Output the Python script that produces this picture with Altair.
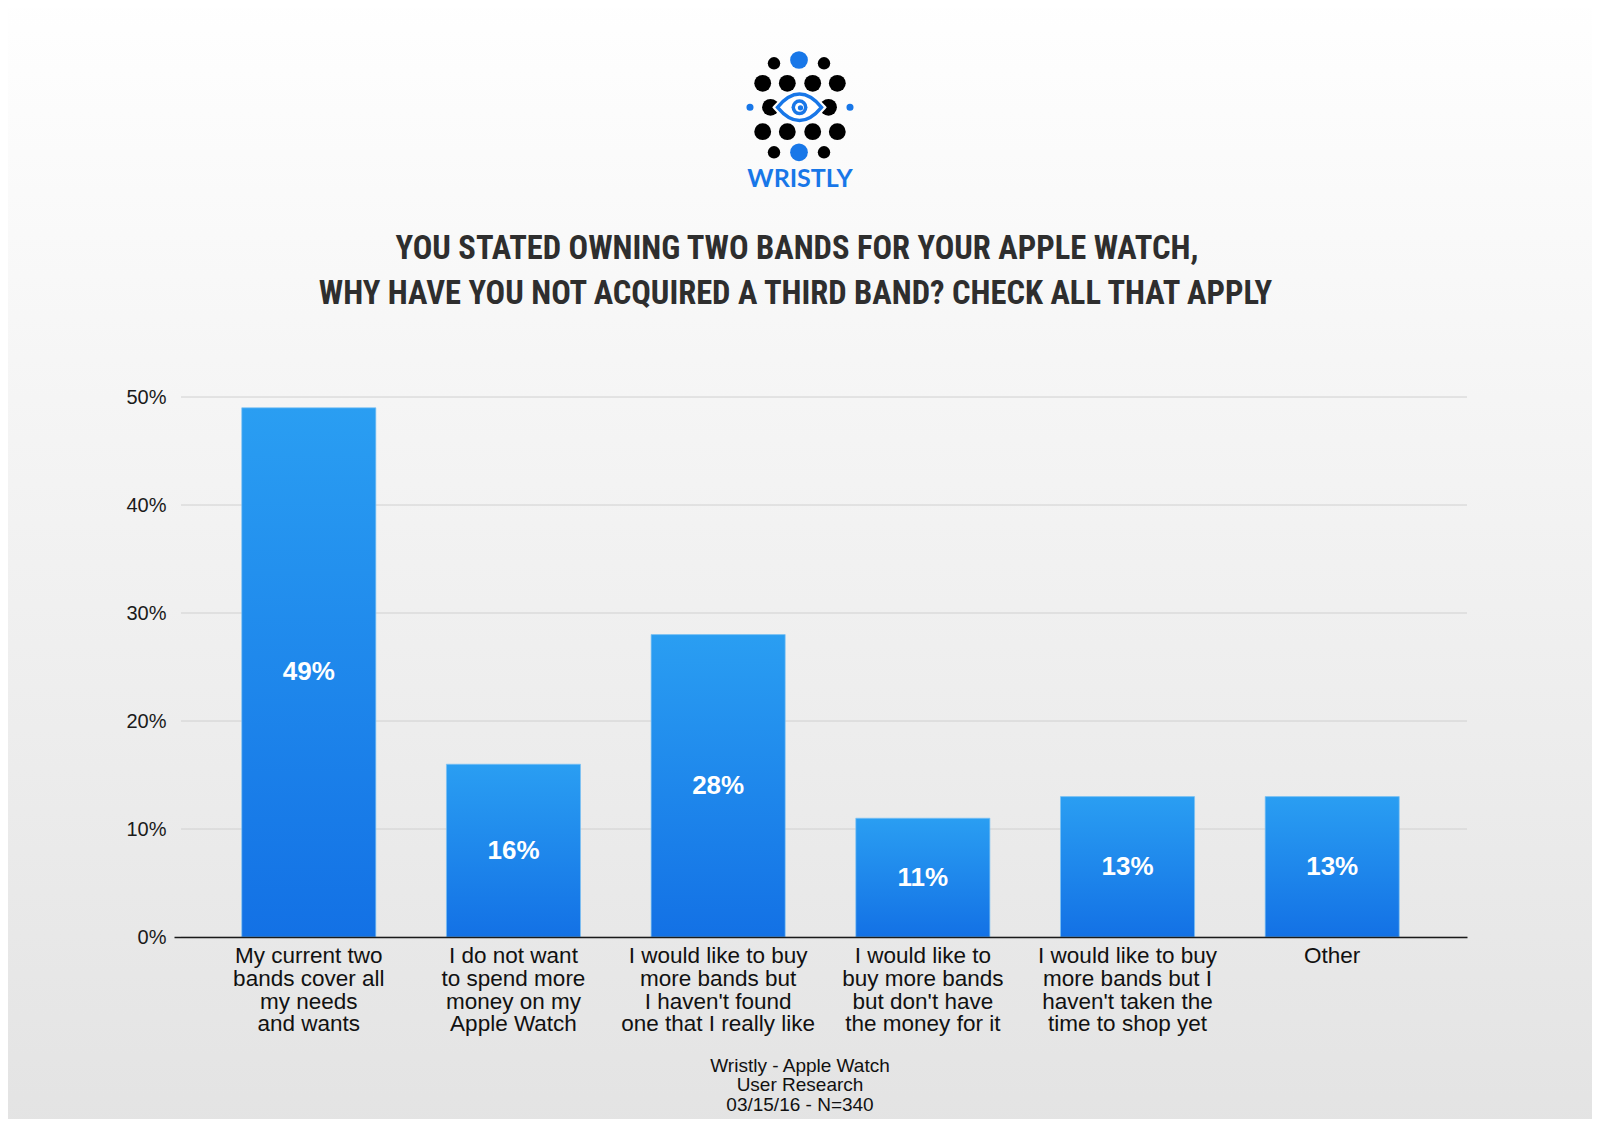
import altair as alt
import pandas as pd

# ---- chart data ----
categories = [
    "My current two bands cover all my needs and wants",
    "I do not want to spend more money on my Apple Watch",
    "I would like to buy more bands but I haven't found one that I really like",
    "I would like to buy more bands but don't have the money for it",
    "I would like to buy more bands but I haven't taken the time to shop yet",
    "Other",
]
tick_labels = [
    "My current two\nbands cover all\nmy needs\nand wants",
    "I do not want\nto spend more\nmoney on my\nApple Watch",
    "I would like to buy\nmore bands but\nI haven't found\none that I really like",
    "I would like to\nbuy more bands\nbut don't have\nthe money for it",
    "I would like to buy\nmore bands but I\nhaven't taken the\ntime to shop yet",
    "Other",
]
values = [0.49, 0.16, 0.28, 0.11, 0.13, 0.13]
y_ticks = [0, 0.1, 0.2, 0.3, 0.4, 0.5]

title_lines = [
    "YOU STATED OWNING TWO BANDS FOR YOUR APPLE WATCH,",
    "WHY HAVE YOU NOT ACQUIRED A THIRD BAND? CHECK ALL THAT APPLY",
]
source_lines = ["Wristly - Apple Watch", "User Research", "03/15/16 - N=340"]
brand = "WRISTLY"

df = pd.DataFrame({"cat": categories, "label": tick_labels, "value": values})
grid_df = pd.DataFrame({"t": y_ticks})

W, H = 1293, 540
PAD_L, PAD_T, PAD_R, PAD_B = 166, 389, 125, 182
BLUE = "#1877e8"
SANS = "Liberation Sans, Arial, Helvetica, sans-serif"

x_scale = alt.Scale(domain=categories, paddingInner=0.345, paddingOuter=0.331)
y_scale = alt.Scale(domain=[0, 0.5], nice=False)

y_axis = alt.Axis(title=None, values=y_ticks, format=".0%",
                  domain=False, ticks=False, labelPadding=8, zindex=2,
                  labelFont=SANS, labelFontSize=20, labelColor="#1a1a1a",
                  grid=False)

base = alt.Chart(df)

# background gradient covering the whole canvas
bg = alt.Chart(pd.DataFrame({"k": [0]})).mark_rect(
    color=alt.Gradient(
        gradient="linear", x1=0, y1=0, x2=0, y2=1,
        stops=[alt.GradientStop(offset=0, color="#ffffff"),
               alt.GradientStop(offset=1, color="#e3e3e3")],
    )
).encode(
    x=alt.value(-PAD_L - 20), x2=alt.value(W + PAD_R + 20),
    y=alt.value(-PAD_T - 20), y2=alt.value(H + PAD_B + 20),
)

grid = alt.Chart(grid_df).mark_rule(color="#d0d0d0", strokeWidth=1).encode(
    y=alt.Y("t:Q", scale=y_scale, axis=y_axis),
    x=alt.value(7), x2=alt.value(W),
)

bars = base.mark_bar(
    color=alt.Gradient(
        gradient="linear", x1=0, y1=0, x2=0, y2=1,
        stops=[alt.GradientStop(offset=0, color="#2a9ef2"),
               alt.GradientStop(offset=1, color="#1371e5")],
    ),
    stroke="#7cc2f4", strokeWidth=1, strokeOpacity=0.7,
).encode(
    x=alt.X("cat:N", scale=x_scale, sort=categories,
            axis=alt.Axis(title=None, labels=False, ticks=False, zindex=2,
                          domain=True, domainColor="#1a1a1a", domainWidth=1.5,
                          grid=False)),
    y=alt.Y("value:Q", scale=y_scale, axis=y_axis),
)

value_labels = base.transform_calculate(half="datum.value / 2").mark_text(
    font=SANS, fontSize=26, fontWeight="bold", color="white", baseline="middle",
).encode(
    x=alt.X("cat:N", scale=x_scale, sort=categories),
    y=alt.Y("half:Q", scale=y_scale, axis=y_axis),
    text=alt.Text("value:Q", format=".0%"),
)

cat_labels = base.mark_text(
    font=SANS, fontSize=22.5, color="#111111", baseline="top", align="center",
    lineBreak="\n", lineHeight=22.8,
).encode(
    x=alt.X("cat:N", scale=x_scale, sort=categories),
    y=alt.value(548),
    text="label:N",
)

# title
one = pd.DataFrame({"k": [0]})
TITLE_FONT = "Roboto Condensed, Liberation Sans Narrow, DejaVu Sans Condensed, sans-serif"
title1 = alt.Chart(one).mark_text(
    text=title_lines[0], font=TITLE_FONT, fontSize=32.5, fontWeight="bold",
    color="#2e2e2e", align="center", baseline="alphabetic",
).encode(x=alt.value(623), y=alt.value(-138))
title2 = alt.Chart(one).mark_text(
    text=title_lines[1], font=TITLE_FONT, fontSize=32.5, fontWeight="bold",
    color="#2e2e2e", align="center", baseline="alphabetic",
).encode(x=alt.value(621.5), y=alt.value(-93))

# source note
src_layers = []
for i, line in enumerate(source_lines):
    src_layers.append(
        alt.Chart(one).mark_text(
            text=line, font=SANS, fontSize=19, color="#111111",
            align="center", baseline="alphabetic",
        ).encode(x=alt.value(626), y=alt.value(674.7 + i * 19.7))
    )

# logo (decoration)
CX = 625
def dot(dx, dy, d, color):
    return alt.Chart(one).mark_circle(
        size=d * d * 0.785, color=color, opacity=1
    ).encode(x=alt.value(CX + dx), y=alt.value(dy))

logo = []
logo.append(dot(0, -337, 20, BLUE))
logo.append(dot(-25, -333.7, 14, "black"))
logo.append(dot(25, -333.7, 14, "black"))
for dx in (-36.3, -11.7, 13.7, 38.3):
    logo.append(dot(dx, -313.7, 19, "black"))
    logo.append(dot(dx, -265.3, 19, "black"))
logo.append(dot(-28.5, -289.7, 19, "black"))
logo.append(dot(29.5, -289.7, 19, "black"))
logo.append(dot(-49, -289.7, 8, BLUE))
logo.append(dot(51, -289.7, 8, BLUE))
logo.append(dot(-25, -244.7, 14, "black"))
logo.append(dot(25, -244.7, 14, "black"))
logo.append(dot(0, -244.7, 20, BLUE))

EYE = "M -1 0 Q 0 -1.2 1 0 Q 0 1.2 -1 0 Z"
eye_halo = alt.Chart(one).mark_point(
    shape=EYE, size=48 * 48, filled=True, fill="white", stroke="white",
    strokeWidth=5, opacity=1,
).encode(x=alt.value(CX + 0.5), y=alt.value(-289.7))
eye = alt.Chart(one).mark_point(
    shape=EYE, size=44 * 44, filled=True, fill="white", stroke=BLUE,
    strokeWidth=3.5, opacity=1,
).encode(x=alt.value(CX + 0.5), y=alt.value(-289.7))
iris = dot(0.5, -289.7, 18, BLUE)
pupil = dot(0.5, -289.7, 10, "white")
pupil_dot = dot(1.5, -289.2, 6, BLUE)
brand_text = alt.Chart(one).mark_text(
    text=brand, font="Lato, Open Sans, sans-serif", fontSize=25, fontWeight="bold",
    color=BLUE, align="center", baseline="alphabetic",
).encode(x=alt.value(CX + 1), y=alt.value(-210.3))

chart = alt.layer(
    bg, grid, bars, value_labels, cat_labels, title1, title2, *src_layers,
    *logo, eye_halo, eye, iris, pupil, pupil_dot, brand_text,
).properties(
    width=W, height=H,
    autosize=alt.AutoSizeParams(type="none"),
    padding={"left": PAD_L, "top": PAD_T, "right": PAD_R, "bottom": PAD_B},
).configure_view(stroke=None).configure(background="white")

chart.save("out.html", embed_options={"renderer": "svg", "actions": False})
